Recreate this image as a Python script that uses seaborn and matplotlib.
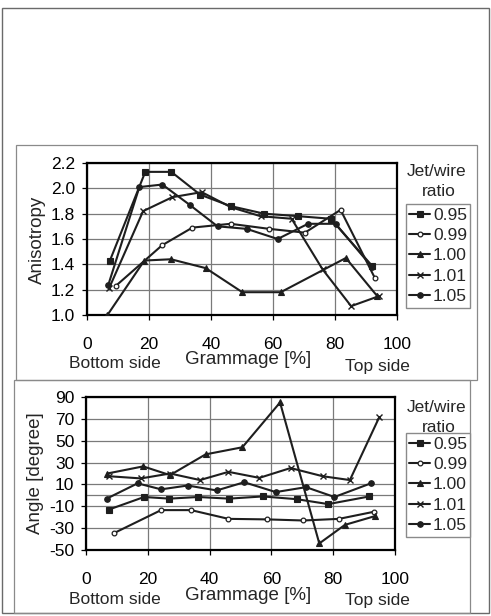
import matplotlib
matplotlib.use("Agg")
import matplotlib.pyplot as plt
import numpy as np
import pandas as pd
import seaborn as sns
from matplotlib.patches import Rectangle
from matplotlib.lines import Line2D

# ---------------------------------------------------------------- data
ratios = ["0.95", "0.99", "1.00", "1.01", "1.05"]
x_ticks = [0, 20, 40, 60, 80, 100]
aniso_ticks = [1.0, 1.2, 1.4, 1.6, 1.8, 2.0, 2.2]
angle_ticks = [-50, -30, -10, 10, 30, 50, 70, 90]

# Anisotropy across the sheet thickness (grammage position in %)
aniso_x_095 = [7.4, 18.8, 27.2, 36.5, 46.3, 57.1, 68.2, 78.6, 91.9]
aniso_y_095 = [1.43, 2.13, 2.13, 1.95, 1.86, 1.80, 1.78, 1.76, 1.39]
aniso_x_099 = [9.3, 24.2, 34.0, 46.3, 58.8, 70.3, 81.8, 92.9]
aniso_y_099 = [1.23, 1.55, 1.69, 1.72, 1.68, 1.65, 1.83, 1.29]
aniso_x_100 = [6.6, 18.5, 27.1, 38.3, 50.1, 62.5, 83.5, 93.6]
aniso_y_100 = [1.00, 1.43, 1.44, 1.37, 1.18, 1.18, 1.45, 1.15]
aniso_x_101 = [7.1, 18.1, 27.5, 37.0, 46.5, 56.0, 66.0, 76.0, 85.2, 94.3]
aniso_y_101 = [1.21, 1.82, 1.93, 1.97, 1.85, 1.78, 1.76, 1.36, 1.07, 1.15]
aniso_x_105 = [6.9, 16.9, 24.3, 33.1, 42.1, 51.5, 61.5, 71.3, 80.2, 91.9]
aniso_y_105 = [1.24, 2.01, 2.03, 1.87, 1.70, 1.68, 1.60, 1.72, 1.72, 1.38]

# Fibre orientation angle across the sheet thickness
angle_x_095 = [7.4, 18.8, 27.0, 36.3, 46.3, 57.2, 68.2, 78.4, 91.7]
angle_y_095 = [-13, -1.5, -3, -1.5, -3, -1, -3.5, -8, -1]
angle_x_099 = [9.1, 24.3, 34.0, 46.1, 58.7, 70.3, 81.9, 93.2]
angle_y_099 = [-34.5, -13.5, -13.5, -21.5, -22, -23, -21.5, -15]
angle_x_100 = [6.9, 18.5, 27.2, 38.7, 50.6, 62.8, 75.5, 83.8, 93.5]
angle_y_100 = [20, 26.5, 18.5, 37.5, 44, 85, -44, -27, -19]
angle_x_101 = [7.4, 17.8, 27.2, 36.9, 46.1, 56.1, 66.2, 76.6, 85.4, 94.9]
angle_y_101 = [17.5, 15.5, 20, 14, 21.5, 16, 25, 17.5, 14, 71.5]
angle_x_105 = [6.7, 16.7, 24.3, 32.9, 42.3, 51.2, 61.4, 71.2, 80.4, 92.2]
angle_y_105 = [-3, 11, 5.5, 9, 4.5, 12, 3, 7.5, -1.5, 11]


def long_table(xs, ys):
    frames = [pd.DataFrame({"x": x, "y": y, "ratio": r})
              for r, x, y in zip(ratios, xs, ys)]
    return pd.concat(frames, ignore_index=True)


aniso = long_table([aniso_x_095, aniso_x_099, aniso_x_100, aniso_x_101, aniso_x_105],
                   [aniso_y_095, aniso_y_099, aniso_y_100, aniso_y_101, aniso_y_105])
angle = long_table([angle_x_095, angle_x_099, angle_x_100, angle_x_101, angle_x_105],
                   [angle_y_095, angle_y_099, angle_y_100, angle_y_101, angle_y_105])

# ---------------------------------------------------------------- style
sns.set_style("white")
plt.rcParams["font.family"] = ["Liberation Sans", "DejaVu Sans"]
plt.rcParams["axes.unicode_minus"] = False

INK = "#1e1e1e"
GRID = "#7a7a7a"
FRAME = "#8a8a8a"
LW = 1.5

marker_styles = {
    "0.95": dict(marker="s", markersize=4.4, markerfacecolor=INK, markeredgecolor=INK, markeredgewidth=0.8),
    "0.99": dict(marker="o", markersize=3.4, markerfacecolor="white", markeredgecolor=INK, markeredgewidth=0.9),
    "1.00": dict(marker="^", markersize=4.0, markerfacecolor=INK, markeredgecolor=INK, markeredgewidth=0.8),
    "1.01": dict(marker="x", markersize=4.4, markerfacecolor=INK, markeredgecolor=INK, markeredgewidth=1.0),
    "1.05": dict(marker="o", markersize=4.0, markerfacecolor=INK, markeredgecolor=INK, markeredgewidth=0.8),
}

W, H = 491, 616
fig = plt.figure(figsize=(W / 100, H / 100), dpi=100)
fig.patch.set_facecolor("white")


def fx(x):
    return x / W


def fy(y):
    return 1 - y / H


def frame(x0, y0, x1, y1, color=FRAME, lw=0.9):
    fig.patches.append(Rectangle((fx(x0), fy(y1)), fx(x1) - fx(x0), fy(y0) - fy(y1),
                                 transform=fig.transFigure, fill=False,
                                 edgecolor=color, linewidth=lw, zorder=0))


# outer page frame and the two panel frames
frame(2, 8, 489, 613, color="#6a6a6a", lw=1.0)
frame(16, 145, 477, 380)
frame(14, 380, 470, 613)


def panel(box, data, ylim, yticks, yfmt, ylabel, ylabel_xy, bottom_row_y, legend_top, title_y):
    x0, y0, x1, y1 = box
    ax = fig.add_axes([fx(x0), fy(y1), fx(x1) - fx(x0), fy(y0) - fy(y1)])
    for r in ratios:
        sub = data[data["ratio"] == r]
        sns.lineplot(data=sub, x="x", y="y", ax=ax, color=INK, linewidth=LW,
                     estimator=None, sort=False, legend=False, zorder=3,
                     **marker_styles[r])
    ax.set_xlim(0, 100)
    ax.set_ylim(*ylim)
    ax.set_xticks(x_ticks)
    ax.set_xticklabels([str(t) for t in x_ticks])
    ax.set_yticks(yticks)
    ax.set_yticklabels([yfmt.format(t) for t in yticks])
    ax.grid(True, color=GRID, linewidth=0.9)
    if ylim[0] < 0 < ylim[1]:
        ax.axhline(0, color=GRID, linewidth=0.9, zorder=1)
    for s in ax.spines.values():
        s.set_color("black")
        s.set_linewidth(1.6)
    ax.tick_params(axis="y", direction="out", length=3.5, width=0.9, pad=5,
                   labelsize=12.5, colors="black", left=True)
    ax.tick_params(axis="x", direction="out", length=3.5, width=0.9, pad=12,
                   labelsize=12.5, colors="black", bottom=True)
    ax.set_xlabel("")
    ax.set_ylabel("")

    fig.text(fx(ylabel_xy[0]), fy(ylabel_xy[1]), ylabel, rotation=90,
             ha="center", va="center", fontsize=13.5)
    fig.text(fx(115), fy(bottom_row_y + 2), "Bottom side", ha="center", va="center", fontsize=12.5)
    fig.text(fx(248), fy(bottom_row_y - 2), "Grammage [%]", ha="center", va="center", fontsize=13.5)
    fig.text(fx(377), fy(bottom_row_y + 4), "Top side", ha="center", va="center", fontsize=12.5)

    fig.text(fx(437), fy(title_y), "Jet/wire", ha="center", va="center", fontsize=12.5)
    fig.text(fx(439), fy(title_y + 20), "ratio", ha="center", va="center", fontsize=12.5)

    handles = [Line2D([], [], color=INK, linewidth=LW, **marker_styles[r]) for r in ratios]
    fig.legend(handles, ratios, loc="upper left",
               bbox_to_anchor=(fx(406), fy(legend_top)), frameon=True, fancybox=False,
               edgecolor=FRAME, framealpha=1, borderaxespad=0, handlelength=1.2,
               handletextpad=0.15, labelspacing=0.3, borderpad=0.2,
               fontsize=12.5)
    return ax


panel((87, 163, 397, 315), aniso, (1.0, 2.2), aniso_ticks, "{:.1f}", "Anisotropy",
      (37, 240), 362, 204, 172)
panel((86, 397, 395, 550), angle, (-50, 90), angle_ticks, "{:d}", "Angle [degree]",
      (35, 473), 597, 433, 407)

fig.savefig("out.png", dpi=100, facecolor="white")
